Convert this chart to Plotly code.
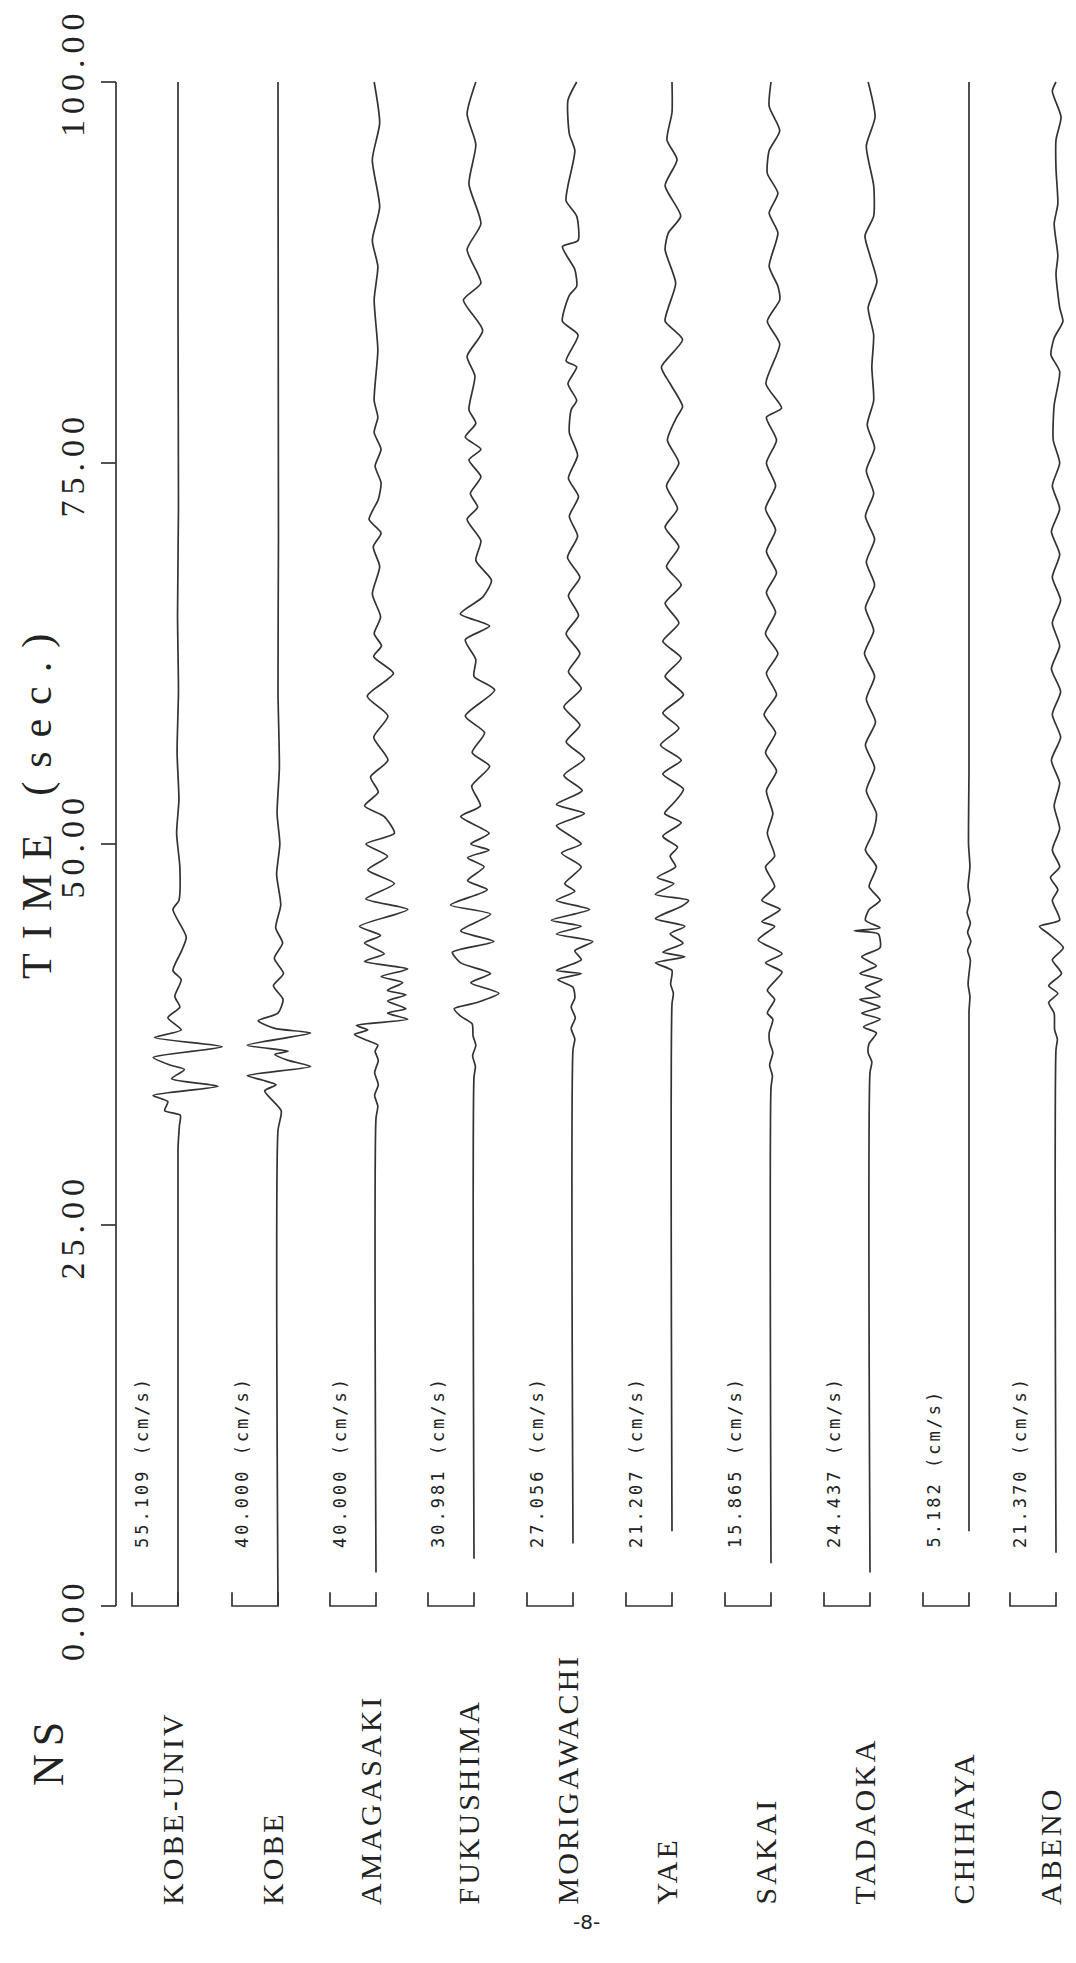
import plotly.graph_objects as go

# ---------------- data ----------------
STATIONS = ["KOBE-UNIV", "KOBE", "AMAGASAKI", "FUKUSHIMA", "MORIGAWACHI",
            "YAE", "SAKAI", "TADAOKA", "CHIHAYA", "ABENO"]
PEAK_CMS = [55.109, 40.000, 40.000, 30.981, 27.056, 21.207, 15.865, 24.437, 5.182, 21.370]
TIME_TICKS = [0, 25, 50, 75, 100]
TICK_TEXT = ["0.00", "25.00", "50.00", "75.00", "100.00"]
COMPONENT = "NS"
AXIS_TITLE = "TIME (sec.)"
PAGE_NO = "-8-"

# time (s) of turning points and relative amplitude (fraction of the scale bar)
T_KOBE_UNIV = [0, 30.0, 31.5, 32.2, 32.5, 33.1, 33.5, 34.1, 34.6, 35.2, 35.5, 36.0, 36.7, 37.3, 37.8,
               38.6, 39.3, 40.0, 41.1, 41.7, 43.0, 43.9, 45.7, 46.3, 48.5, 50.7, 52.9, 56.0, 60.0,
               65.0, 72.0, 85.0, 100.0]
A_KOBE_UNIV = [0, 0, 0.03, 0.05, -0.29, -0.22, -0.54, 0.87, -0.14, 0.14, -0.18, -0.54, 0.96, -0.51,
               0.07, -0.22, 0.04, -0.07, 0.07, -0.11, 0.08, 0.18, -0.11, 0.02, 0.04, -0.03, 0.02,
               -0.02, 0.01, -0.01, 0.01, 0, 0]

T_KOBE = [0, 31.2, 32.5, 33.8, 34.2, 34.5, 34.8, 35.4, 35.8, 36.2, 36.4, 36.8, 37.6, 37.9, 38.4,
          38.9, 39.8, 40.7, 41.5, 42.5, 43.5, 44.5, 46.0, 48.0, 50.0, 52.0, 55.0, 60.0, 70.0, 100.0]
A_KOBE = [0, 0, 0.07, -0.29, -0.04, -0.33, -0.67, 0.71, 0.22, -0.07, 0.22, -0.67, 0.71, -0.07,
          -0.43, 0.0, 0.11, -0.1, 0.12, -0.08, 0.1, -0.05, 0.06, -0.03, 0.04, -0.02, 0.03, 0, 0.01, 0]

T_AMAGASAKI = [2.2, 32.0, 32.8, 33.5, 34.2, 35.0, 35.8, 36.4, 36.8, 37.1, 37.5, 37.8, 38.1, 38.5,
               38.9, 39.2, 39.7, 40.1, 40.4, 40.9, 41.3, 41.8, 42.3, 42.8, 43.5, 44.0, 44.6, 45.7,
               46.4, 47.4, 48.3, 49.2, 50.0, 50.7, 51.8, 52.5, 53.4, 54.4, 55.5, 57.0, 58.4, 59.7,
               61.2, 62.3, 63.0, 63.8, 64.9, 66.4, 68.2, 69.5, 70.4, 71.3, 72.6, 73.7, 74.8, 75.9,
               77.0, 78.0, 79.1, 82.4, 85.7, 87.9, 89.6, 91.8, 94.9, 97.3, 100.0]
A_AMAGASAKI = [0, 0, 0.04, -0.03, 0.05, -0.03, 0.05, -0.02, 0.04, -0.18, -0.47, -0.18, -0.43, 0.69,
               0.25, 0.65, 0.25, 0.65, 0.25, 0.58, 0.11, 0.69, -0.25, 0.18, -0.25, 0.10, -0.36, 0.69,
               -0.22, 0.40, -0.18, 0.25, -0.22, 0.40, 0.18, -0.25, 0.05, -0.12, 0.26, -0.05, 0.26,
               -0.19, 0.38, -0.05, 0.12, -0.04, 0.10, -0.08, 0.08, -0.06, 0.11, -0.15, 0.05, 0.11,
               -0.02, 0.11, -0.04, 0.04, -0.04, 0.04, -0.04, 0.04, -0.08, 0.08, -0.08, 0.08, -0.04]

T_FUKUSHIMA = [3.1, 34.7, 35.4, 36.1, 36.8, 37.4, 38.2, 38.7, 39.2, 39.6, 40.2, 40.9, 41.5, 42.2,
               42.9, 43.6, 44.3, 45.4, 46.0, 47.0, 47.6, 48.5, 49.1, 49.6, 50.0, 50.7, 51.8, 52.5,
               53.8, 55.1, 56.0, 57.3, 58.4, 60.1, 61.0, 62.1, 63.4, 64.3, 65.1, 66.2, 67.3, 68.6,
               69.9, 71.3, 72.1, 73.0, 74.1, 75.2, 75.9, 76.7, 77.6, 78.5, 80.7, 82.0, 83.7, 85.7,
               86.8, 89.0, 90.7, 93.3, 95.9, 97.9, 100.0]
A_FUKUSHIMA = [0, 0, 0.03, -0.03, 0.04, -0.02, -0.04, -0.29, -0.43, 0.07, 0.54, -0.07, 0.36, -0.29,
               -0.47, 0.43, -0.29, 0.36, -0.51, 0.29, -0.14, 0.22, -0.14, 0.33, -0.07, 0.33, -0.29,
               0.14, -0.05, 0.34, -0.04, 0.23, -0.19, 0.45, 0.0, 0.04, -0.19, 0.34, -0.30, 0.19, 0.38,
               0.04, 0.15, -0.15, 0.08, -0.08, 0.15, -0.11, 0.15, -0.19, 0.04, -0.11, 0.02, -0.15,
               0.19, -0.23, 0.15, -0.15, 0.15, -0.11, 0.04, -0.15, 0.04]

T_MORIGAWACHI = [4.1, 36.5, 37.2, 37.9, 38.6, 39.3, 39.9, 40.6, 41.1, 41.5, 41.7, 42.4, 43.0, 43.6,
                 44.1, 44.6, 45.0, 45.7, 46.3, 46.9, 47.4, 48.5, 49.4, 50.0, 50.5, 51.2, 52.0, 52.6,
                 53.5, 54.5, 55.6, 56.7, 57.8, 59.0, 60.2, 61.3, 62.5, 63.8, 65.0, 66.3, 67.5, 68.8,
                 70.2, 71.5, 72.8, 74.0, 75.5, 77.0, 78.5, 79.1, 80.2, 81.3, 81.7, 83.4, 84.3, 86.0,
                 86.6, 87.7, 89.2, 89.6, 91.2, 92.2, 93.2, 95.5, 96.6, 98.8, 100.0]
A_MORIGAWACHI = [0, 0, 0.04, -0.04, 0.05, -0.04, 0.04, 0, -0.33, 0.18, -0.36, 0.18, 0.04, 0.43,
                 -0.36, 0.18, -0.47, 0.36, -0.36, 0.04, -0.18, 0.18, -0.25, 0.18, -0.04, -0.36, 0.25,
                 -0.36, 0.2, -0.2, 0.25, -0.15, 0.15, -0.2, 0.18, -0.1, 0.15, -0.15, 0.12, -0.1, 0.15,
                 -0.12, 0.1, -0.08, 0.12, -0.1, 0.1, -0.08, -0.04, 0.08, -0.11, 0.08, -0.15, 0.11,
                 -0.23, -0.08, 0.08, 0.04, -0.23, 0.11, 0.08, -0.15, -0.11, 0.04, -0.08, -0.11, 0.08]

T_YAE = [4.9, 39.5, 40.2, 40.8, 41.7, 42.2, 42.6, 42.9, 43.5, 44.1, 44.6, 45.1, 45.9, 46.3, 46.7,
         47.4, 47.8, 48.5, 49.2, 49.8, 50.5, 51.4, 52.0, 52.7, 53.6, 54.6, 55.5, 56.5, 57.6, 58.6,
         59.8, 61.0, 62.2, 63.3, 64.5, 65.8, 67.0, 68.2, 69.5, 70.8, 72.0, 73.5, 75.0, 76.5, 78.0,
         78.7, 80.2, 81.3, 83.1, 84.3, 85.2, 86.8, 89.0, 90.1, 91.2, 93.2, 94.9, 96.2, 98.0, 100.0]
A_YAE = [0, 0, 0.03, -0.03, 0, -0.36, 0.28, -0.2, 0.24, -0.04, 0.28, -0.36, 0.2, 0.36, -0.36, 0.04,
         -0.32, 0.08, -0.04, 0.12, -0.2, 0.2, -0.16, 0.04, 0.25, -0.2, 0.2, -0.25, 0.15, -0.2, 0.25,
         -0.15, 0.2, -0.2, 0.15, -0.15, 0.2, -0.12, 0.15, -0.15, 0.12, -0.12, 0.15, -0.1, 0.1, 0.23,
         -0.04, -0.23, 0.23, -0.15, -0.08, 0.08, -0.15, -0.08, 0.19, -0.15, 0.11, -0.11, 0, 0]

T_SAKAI = [2.8, 34.0, 34.8, 35.5, 36.3, 37.0, 37.6, 38.5, 38.9, 39.8, 40.4, 41.6, 42.2, 42.8, 43.7,
           44.6, 44.9, 45.7, 46.3, 47.2, 48.5, 49.2, 50.7, 52.0, 53.5, 54.8, 56.0, 57.3, 58.5, 59.8,
           61.2, 62.5, 63.8, 65.2, 66.5, 67.8, 69.2, 70.6, 72.0, 73.5, 75.0, 76.5, 78.0, 78.6, 80.2,
           82.8, 84.3, 85.7, 86.6, 87.9, 90.1, 91.4, 92.7, 94.0, 95.5, 96.8, 98.4, 100.0]
A_SAKAI = [0, 0, 0.03, -0.03, 0.04, -0.03, -0.04, 0.04, -0.08, 0.08, -0.08, 0.24, -0.12, 0.24, -0.28,
           0.08, -0.2, 0.2, -0.2, 0.08, -0.12, 0.08, -0.08, 0.04, -0.1, 0.12, -0.12, 0.1, -0.15, 0.12,
           -0.1, 0.15, -0.12, 0.1, -0.1, 0.12, -0.1, 0.1, -0.12, 0.1, -0.1, 0.12, -0.1, 0.23, -0.11,
           0.19, -0.08, 0.19, 0.15, -0.04, 0.15, -0.04, 0.15, -0.08, -0.04, 0.19, -0.04, 0]

T_TADAOKA = [2.2, 35.0, 35.7, 36.3, 36.9, 37.6, 38.0, 38.5, 38.9, 39.3, 39.8, 40.0, 40.6, 41.1,
             41.5, 42.0, 42.6, 43.2, 44.1, 44.3, 44.5, 45.0, 45.7, 46.3, 47.2, 48.5, 49.6, 50.7,
             52.0, 53.5, 55.0, 56.5, 58.0, 59.5, 61.0, 62.5, 64.0, 65.5, 67.0, 68.5, 70.0, 71.5,
             73.0, 74.5, 76.0, 77.5, 79.1, 81.3, 83.4, 85.2, 86.9, 88.6, 89.9, 91.2, 93.2, 95.8,
             97.7, 100.0]
A_TADAOKA = [0, 0, 0.04, -0.04, -0.02, 0.14, -0.14, 0.22, -0.18, 0.22, -0.22, 0.22, -0.1, 0.26,
             -0.22, 0.14, -0.18, 0.22, 0.18, -0.34, 0.22, -0.1, -0.02, 0.22, -0.02, 0.14, -0.1, 0.06,
             0.14, -0.08, 0.1, -0.1, 0.12, -0.08, 0.1, -0.12, 0.08, -0.1, 0.1, -0.08, 0.1, -0.1,
             0.08, -0.08, 0.1, -0.06, 0.08, 0.04, 0.08, -0.04, 0.15, 0, -0.11, 0.08, 0.08, -0.08,
             0.11, -0.04]

T_CHIHAYA = [4.9, 39.0, 40.0, 40.8, 41.5, 42.4, 43.0, 43.6, 44.2, 44.8, 45.5, 46.3, 47.2, 48.5,
             50.0, 55.0, 100.0]
A_CHIHAYA = [0, 0, 0.02, -0.02, 0, 0.03, -0.03, 0.04, -0.03, 0.03, -0.04, 0.02, -0.02, 0.02,
             -0.01, 0, 0]

T_ABENO = [3.5, 36.5, 37.2, 37.8, 38.9, 39.6, 40.2, 40.7, 41.5, 42.4, 43.2, 44.1, 44.6, 45.0, 46.3,
           47.0, 47.8, 48.5, 49.6, 51.0, 52.5, 54.0, 55.5, 57.0, 58.5, 60.0, 61.5, 63.0, 64.5, 66.0,
           67.5, 69.0, 70.5, 72.0, 73.5, 75.0, 76.5, 78.8, 81.0, 82.1, 83.2, 84.3, 85.2, 87.4, 88.6,
           90.7, 92.0, 94.3, 96.2, 97.7, 99.4, 100.0]
A_ABENO = [0, 0, 0.03, -0.03, -0.04, -0.16, 0.04, -0.16, 0.12, -0.08, 0.16, -0.16, -0.36, 0.08,
           -0.08, 0.04, -0.12, 0.08, -0.08, 0.08, -0.04, 0.08, -0.1, 0.1, -0.08, 0.1, -0.1, 0.08,
           -0.08, 0.1, -0.08, 0.08, -0.1, 0.08, -0.08, 0.08, -0.06, -0.04, 0.08, -0.11, -0.04, 0.15,
           0.08, 0, 0.04, -0.04, 0.04, 0, 0, 0.11, -0.08, 0]

TIMES = [T_KOBE_UNIV, T_KOBE, T_AMAGASAKI, T_FUKUSHIMA, T_MORIGAWACHI,
         T_YAE, T_SAKAI, T_TADAOKA, T_CHIHAYA, T_ABENO]
AMPS = [A_KOBE_UNIV, A_KOBE, A_AMAGASAKI, A_FUKUSHIMA, A_MORIGAWACHI,
        A_YAE, A_SAKAI, A_TADAOKA, A_CHIHAYA, A_ABENO]

# ---------------- layout constants (page pixels) ----------------
VIEW_W, VIEW_H = 1076, 1963
BODY_MARGIN = 8               # default browser body margin around the plot div
FIG_W = VIEW_W - BODY_MARGIN
FIG_H = VIEW_H - 3 * BODY_MARGIN
PX_PER_S = 15.24              # vertical scale
Y_ZERO = 1606                 # page y of t = 0
TRACE_X = [178, 278, 376, 474, 573, 672, 771, 870, 969, 1056]
BAR_W = 46                    # width of scale bar = peak value
BAR_H = 0.9                   # seconds
AXIS_X = 116
INK = "#333333"
TXT = "#222222"
SERIF = "Liberation Serif"


def t_of(ypix):
    return (Y_ZERO - ypix) / PX_PER_S


def spaced(text, px):
    return '<span style="letter-spacing:%spx">%s</span>' % (px, text)


fig = go.Figure()

# time axis line and ticks
fig.add_trace(go.Scatter(x=[AXIS_X, AXIS_X], y=[TIME_TICKS[0], TIME_TICKS[-1]], mode="lines",
                         line=dict(color=INK, width=1.7), hoverinfo="skip"))
tx, ty = [], []
for t in TIME_TICKS:
    tx += [AXIS_X - 15, AXIS_X, None]
    ty += [t, t, None]
fig.add_trace(go.Scatter(x=tx, y=ty, mode="lines", line=dict(color=INK, width=1.7), hoverinfo="skip"))

# seismograms and scale bars
for i, name in enumerate(STATIONS):
    xs = [TRACE_X[i] + a * BAR_W for a in AMPS[i]]
    fig.add_trace(go.Scatter(x=xs, y=TIMES[i], mode="lines",
                             line=dict(color=INK, width=1.7, shape="spline", smoothing=0.6),
                             hoverinfo="skip"))
    p = TRACE_X[i]
    fig.add_trace(go.Scatter(x=[p - BAR_W, p - BAR_W, p, p], y=[BAR_H, 0, 0, BAR_H], mode="lines",
                             line=dict(color=INK, width=1.7), hoverinfo="skip"))

ann = []
for t, lab in zip(TIME_TICKS, TICK_TEXT):
    ann.append(dict(x=72, y=t - 57 / PX_PER_S, text=spaced(lab, 6), textangle=-90, showarrow=False,
                    xanchor="center", yanchor="bottom",
                    font=dict(family=SERIF, size=34, color=TXT)))
ann.append(dict(x=37, y=t_of(800), text=spaced(AXIS_TITLE, 14), textangle=-90, showarrow=False,
                xanchor="center", yanchor="middle", font=dict(family=SERIF, size=42, color=TXT)))
ann.append(dict(x=48, y=t_of(1750), text=spaced(COMPONENT, 8), textangle=-90, showarrow=False,
                xanchor="center", yanchor="middle", font=dict(family=SERIF, size=44, color=TXT)))
for i, name in enumerate(STATIONS):
    ann.append(dict(x=TRACE_X[i] - 6, y=t_of(1907), text=spaced(name, 3), textangle=-90,
                    showarrow=False, xanchor="center", yanchor="bottom",
                    font=dict(family=SERIF, size=30, color=TXT)))
    ann.append(dict(x=TRACE_X[i] - 36, y=t_of(1550), text=spaced("%.3f (cm/s)" % PEAK_CMS[i], 3),
                    textangle=-90, showarrow=False, xanchor="center", yanchor="bottom",
                    font=dict(family="DejaVu Sans Mono", size=17, color=TXT)))
ann.append(dict(x=586, y=t_of(1922), text=PAGE_NO, showarrow=False, xanchor="center",
                yanchor="middle", font=dict(family="DejaVu Sans", size=20, color=TXT)))

fig.update_layout(
    width=FIG_W, height=FIG_H, margin=dict(l=0, r=0, t=0, b=0, pad=0), autosize=False,
    paper_bgcolor="white", plot_bgcolor="white", showlegend=False, hovermode=False,
    xaxis=dict(range=[BODY_MARGIN, BODY_MARGIN + FIG_W], visible=False, fixedrange=True),
    yaxis=dict(range=[t_of(BODY_MARGIN + FIG_H), t_of(BODY_MARGIN)], visible=False, fixedrange=True),
    annotations=ann,
)

fig.write_html(
    "out.html",
    config={"displayModeBar": False},
    post_script="document.documentElement.style.overflow='hidden';"
                "document.body.style.overflow='hidden';",
)
